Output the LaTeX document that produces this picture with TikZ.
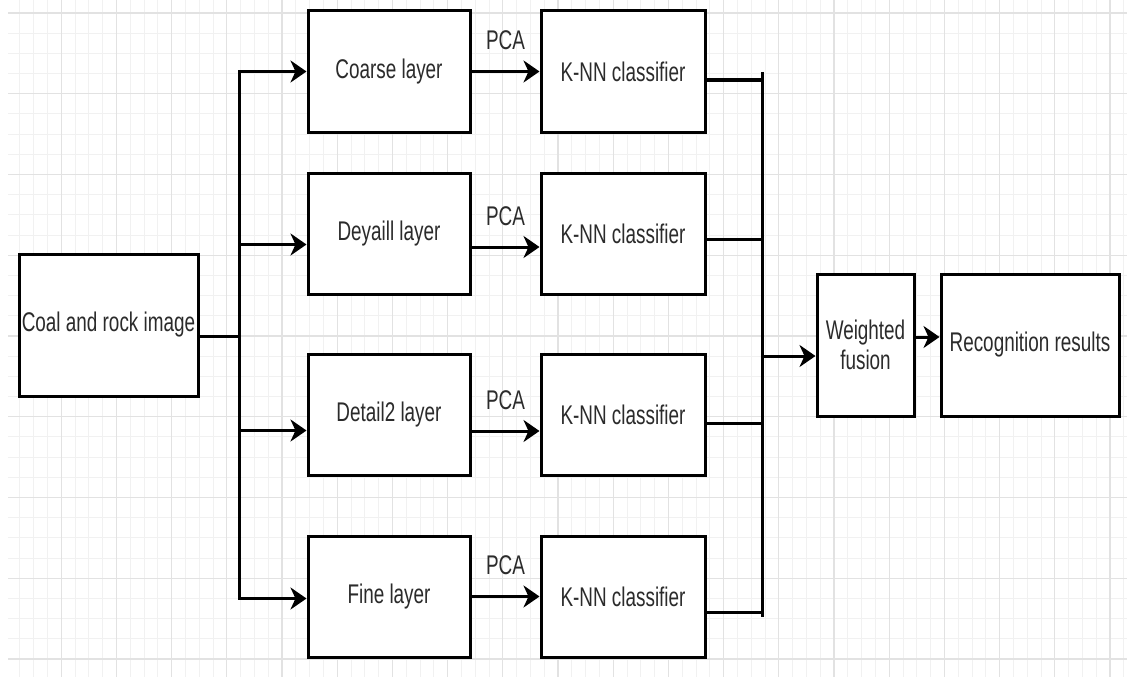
\documentclass[tikz,border=0pt]{standalone}
\usepackage{fontspec}
\setmainfont{Liberation Sans}[FakeStretch=0.7]
\usetikzlibrary{arrows.meta, positioning, calc}
\definecolor{gridmajor}{HTML}{E2E2E2}
\definecolor{gridminor}{HTML}{F1F1F1}
\definecolor{labelcolor}{HTML}{2B2B2B}

\begin{document}
\begin{tikzpicture}[x=1pt, y=-1pt,
    node distance=38pt and 68pt,
    box/.style={draw, fill=white, line width=3pt, minimum width=162pt,
                minimum height=121pt, align=center, inner sep=0pt,
                font=\fontsize{27}{30}\selectfont, text=labelcolor},
    pca/.style={midway, above=20pt, inner sep=0pt,
                font=\fontsize{27}{30}\selectfont, text=labelcolor},
    arr/.style={-{Stealth[length=16pt, width=22pt, inset=5pt]}, line width=3pt},
    wire/.style={line width=3pt}
]
    \useasboundingbox (0,0) rectangle (1127,677);

    % background grid
    \foreach \k in {1,...,81}
        \draw[gridminor, line width=1pt] ({6+13.8*\k},0) -- ({6+13.8*\k},677);
    \foreach \k in {0,...,32}
        \draw[gridminor, line width=1pt] (8,{13+20.19*\k}) -- (1127,{13+20.19*\k});
    \foreach \k in {4,8,...,80}
        \draw[gridmajor, line width=1.3pt] ({6+13.8*\k},0) -- ({6+13.8*\k},677);
    \foreach \k in {0,4,...,32}
        \draw[gridmajor, line width=1.3pt] (8,{13+20.19*\k}) -- (1127,{13+20.19*\k});

    % input image
    \node[box, minimum width=179pt, minimum height=142pt] (coal) at (108.5,325)
          {Coal and rock image};

    % decomposition layers
    \node[box] (coarse) at (389,71.5) {Coarse layer};
    \node[box, below=of coarse] (deyaill) {Deyaill layer};
    \node[box, below=57pt of deyaill] (detail) {Detail2 layer};
    \node[box, below=58pt of detail] (fine) {Fine layer};

    % classifiers
    \node[box, minimum width=164pt, right=of coarse] (knn1) {K-NN classifier};
    \node[box, minimum width=164pt, right=of deyaill] (knn2) {K-NN classifier};
    \node[box, minimum width=164pt, right=of detail] (knn3) {K-NN classifier};
    \node[box, minimum width=164pt, right=of fine] (knn4) {K-NN classifier};

    % fusion and output
    \node[box, minimum width=97pt, minimum height=142pt] (fusion) at (865.5,345)
          {Weighted\\fusion};
    \node[box, minimum width=178pt, minimum height=142pt, right=24pt of fusion]
          (result) {Recognition results};

    \coordinate (split) at (239,336);
    \coordinate (bustop) at (762,72);
    \coordinate (busbot) at (762,617);
    \coordinate (merge) at (762,356);

    % split into layers
    \draw[wire] (coal.east |- split) -- (split);
    \draw[arr] (split) |- (coarse.west);
    \draw[arr] (split) |- ([yshift=-11pt]deyaill.west);
    \draw[arr] (split) |- ([yshift=-16pt]detail.west);
    \draw[arr] (split) |- ([yshift=-2pt]fine.west);

    % PCA
    \draw[arr] (coarse) -- node[pca] {PCA} (knn1);
    \draw[arr] ([yshift=-13.5pt]deyaill.east) -- node[pca] {PCA}
               ([yshift=-13.5pt]knn2.west);
    \draw[arr] ([yshift=-16.5pt]detail.east) -- node[pca] {PCA}
               ([yshift=-16.5pt]knn3.west);
    \draw[arr] (fine) -- node[pca] {PCA} (knn4);

    % collect results
    \draw[wire] (bustop) -- (busbot);
    \draw[wire] ([yshift=-8.5pt]knn1.east) -| (bustop);
    \draw[wire] ([yshift=-5.5pt]knn2.east) -| (bustop);
    \draw[wire] ([yshift=-8.5pt]knn3.east) -| (busbot);
    \draw[wire] ([yshift=-15.5pt]knn4.east) -| (busbot);
    \draw[arr] (merge) -- (merge -| fusion.west);
    \draw[arr] ([yshift=8pt]fusion.east) -- ([yshift=8pt]result.west);
\end{tikzpicture}
\end{document}
